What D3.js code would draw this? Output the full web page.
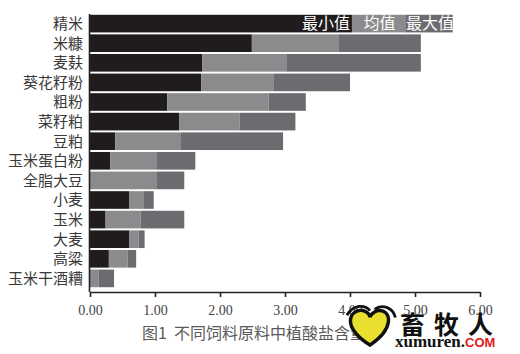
<!DOCTYPE html>
<html>
<head>
<meta charset="utf-8">
<script src="https://cdn.jsdelivr.net/npm/d3@7"></script>
<style>
  html, body { margin: 0; padding: 0; background: #fff; }
  svg { display: block; }
  .cat { font-family: "Noto Sans CJK SC", sans-serif; font-size: 15px; fill: #3a3a3a; }
  .x.axis text { font-family: "Liberation Serif", serif; font-size: 14px; fill: #444; }
  .x.axis path, .x.axis line { stroke: #222; stroke-width: 1.6; }
</style>
</head>
<body>
<div id="chart"></div>
<script>
// phytate content by feed ingredient
const categories = ['精米', '米糠', '麦麸', '葵花籽粉', '粗粉', '菜籽粕', '豆粕',
                    '玉米蛋白粉', '全脂大豆', '小麦', '玉米', '大麦', '高粱', '玉米干酒糟'];
const minVals  = [4.03, 2.49, 1.73, 1.71, 1.19, 1.37, 0.39, 0.31, 0.00, 0.60, 0.24, 0.60, 0.29, 0.00];
const meanVals = [4.85, 3.83, 3.02, 2.83, 2.75, 2.30, 1.40, 1.03, 1.03, 0.82, 0.78, 0.75, 0.58, 0.13];
const maxVals  = [5.58, 5.09, 5.09, 4.00, 3.32, 3.16, 2.97, 1.62, 1.45, 0.98, 1.45, 0.84, 0.71, 0.37];
const xTicks = [0, 1, 2, 3, 4, 5, 6];
const legendLabels = ['最小值', '均值', '最大值'];
const caption = '图1\u00a0\u00a0不同饲料原料中植酸盐含量';

const W = 520, H = 354;
const colors = ['#201c1d', '#8b8a8d', '#6c6b6f'];

const svg = d3.select('#chart').append('svg')
    .attr('width', W)
    .attr('height', H);

const scaleX = d3.scaleLinear()
    .domain([0, 6])
    .range([90, 480]);

const scaleY = d3.scaleBand()
    .domain(categories)
    .range([14, 288])
    .paddingInner(0.1)
    .paddingOuter(0.04);

// one row per category: [start, end] of each segment
const rows = categories.map((c, i) => ({
    cat: c,
    segs: [[0, minVals[i]], [minVals[i], meanVals[i]], [meanVals[i], maxVals[i]]]
}));

const bars = svg.append('g').selectAll('g')
    .data(rows)
    .enter()
    .append('g');

bars.selectAll('rect')
    .data(d => d.segs.map((s, k) => ({cat: d.cat, s: s, k: k})))
    .enter()
    .append('rect')
        .attr('x', d => scaleX(d.s[0]))
        .attr('y', d => scaleY(d.cat))
        .attr('width', d => Math.max(0, scaleX(d.s[1]) - scaleX(d.s[0])))
        .attr('height', scaleY.bandwidth())
        .style('fill', d => colors[d.k]);

// legend text sits on the top bar
const firstRow = rows[0];
svg.append('g').selectAll('text')
    .data(legendLabels)
    .enter()
    .append('text')
        .attr('x', (d, k) => k === 0
            ? scaleX(firstRow.segs[k][1]) - 2
            : (scaleX(firstRow.segs[k][0]) + scaleX(firstRow.segs[k][1])) / 2 + 1)
        .attr('y', scaleY(firstRow.cat) + scaleY.bandwidth() / 2)
        .attr('dy', '0.36em')
        .attr('text-anchor', (d, k) => k === 0 ? 'end' : 'middle')
        .style('font-family', '"Noto Sans CJK SC", sans-serif')
        .style('font-size', '16px')
        .style('fill', '#fff')
        .text(d => d);

// category labels
svg.append('g').selectAll('text')
    .data(categories)
    .enter()
    .append('text')
        .attr('class', 'cat')
        .attr('x', 83)
        .attr('y', d => scaleY(d) + scaleY.bandwidth() / 2)
        .attr('dy', '0.36em')
        .attr('text-anchor', 'end')
        .text(d => d);

// y axis line
svg.append('line')
    .attr('x1', 89.5).attr('x2', 89.5)
    .attr('y1', 14).attr('y2', 292)
    .style('stroke', '#222')
    .style('stroke-width', 1.6);

svg.append('g')
    .attr('class', 'x axis')
    .attr('transform', 'translate(0, 292)')
    .call(d3.axisBottom(scaleX)
        .tickValues(xTicks)
        .tickFormat(d3.format('.2f'))
        .tickSize(5)
        .tickSizeOuter(0)
        .tickPadding(8));

svg.append('text')
    .attr('x', 142)
    .attr('y', 339)
    .style('font-family', '"Noto Sans CJK SC", sans-serif')
    .style('font-size', '16px')
    .style('fill', '#5a5a5a')
    .text(caption);

// watermark logo
const logo = svg.append('g').attr('transform', 'translate(370, 329) scale(1.15)');
logo.append('path')
    .attr('d', 'M0,14 C-10,8 -17,0 -17,-7 C-17,-14 -11,-17 -6,-16 C-2,-15 0,-12 0,-10 C0,-12 3,-15 7,-16 C12,-17 17,-13 16,-6 C15,1 9,8 0,14 Z')
    .style('fill', '#e8df2e')
    .style('stroke', '#111')
    .style('stroke-width', 3);
logo.append('path')
    .attr('d', 'M-20,-12 C-14,-22 -4,-21 0,-16 M4,-17 C10,-22 20,-19 22,-10')
    .style('fill', 'none')
    .style('stroke', '#111')
    .style('stroke-width', 2.5);
svg.append('text')
    .attr('x', 400).attr('y', 334)
    .style('font-family', '"Noto Sans CJK SC", sans-serif')
    .style('font-weight', 700)
    .style('font-size', '25px')
    .style('letter-spacing', '9px')
    .style('fill', '#111')
    .text('畜牧人');
const url = svg.append('text')
    .attr('x', 395).attr('y', 347)
    .style('font-family', '"Liberation Serif", serif')
    .style('font-weight', 700)
    .style('font-size', '17px')
    .style('fill', '#111');
url.append('tspan').text('xumuren.');
url.append('tspan')
    .style('fill', '#e02020')
    .style('font-family', '"Liberation Sans", sans-serif')
    .style('font-size', '13px')
    .text('COM');
</script>
</body>
</html>
